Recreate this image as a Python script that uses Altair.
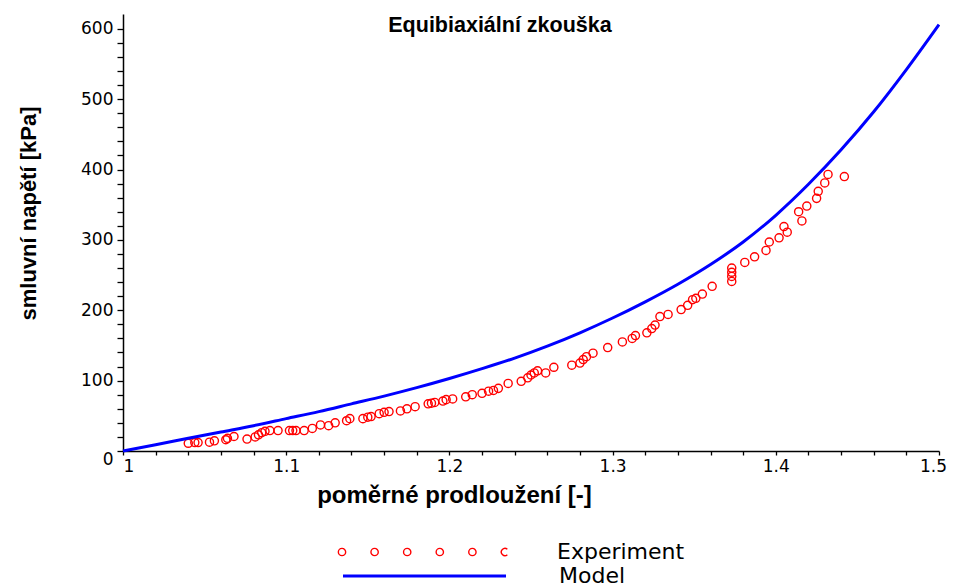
import altair as alt
import pandas as pd

TITLE = "Equibiaxiální zkouška"
X_TITLE = "poměrné prodloužení [-]"
Y_TITLE = "smluvní napětí [kPa]"
SERIES = ["Experiment", "Model"]
COLORS = ["#FF0000", "#0000FF"]

EXP_X = [1.040, 1.044, 1.046, 1.053, 1.056, 1.063, 1.064, 1.068, 1.076, 1.081,
         1.083, 1.085, 1.087, 1.090, 1.095, 1.102, 1.104, 1.106, 1.111, 1.116,
         1.121, 1.126, 1.130, 1.137, 1.139, 1.147, 1.150, 1.152, 1.157, 1.160,
         1.163, 1.170, 1.174, 1.179, 1.187, 1.189, 1.191, 1.196, 1.198, 1.202,
         1.210, 1.214, 1.220, 1.224, 1.227, 1.230, 1.236, 1.244, 1.248, 1.250,
         1.252, 1.254, 1.259, 1.264, 1.275, 1.280, 1.282, 1.284, 1.288, 1.297,
         1.306, 1.312, 1.314, 1.321, 1.324, 1.326, 1.329, 1.334, 1.342, 1.346,
         1.349, 1.351, 1.355, 1.361, 1.373, 1.373, 1.373, 1.373, 1.381, 1.387,
         1.394, 1.396, 1.402, 1.405, 1.407, 1.414, 1.416, 1.419, 1.425, 1.426,
         1.430, 1.432, 1.442]
EXP_Y = [11, 12, 12, 12.5, 14.5, 16, 18, 20.6, 17, 20,
         23, 26, 28, 29, 29, 29, 29, 29, 29, 32,
         37, 36, 40, 43, 46, 46, 48, 49, 53, 55,
         56, 57, 60, 63, 67, 68, 69, 71, 73, 74,
         77, 80, 82, 85, 86, 89, 96, 99, 104, 108,
         111, 114, 111, 119, 122, 125, 130, 134, 139, 147,
         155, 160, 164, 168, 174, 179, 191, 194, 201, 207,
         215, 217, 223, 234, 260, 254, 248, 241, 268, 276,
         285, 297, 303, 319, 311, 340, 327, 348, 359, 369,
         381, 393, 390]

MODEL_X = [1.00, 1.02, 1.04, 1.06, 1.08, 1.10, 1.12, 1.14, 1.16, 1.18,
           1.20, 1.22, 1.24, 1.26, 1.28, 1.30, 1.32, 1.34, 1.36, 1.38,
           1.40, 1.42, 1.44, 1.46, 1.48, 1.50]
MODEL_Y = [0, 9, 18, 27, 36, 46, 56, 67, 78, 90,
           103, 117, 132, 149, 168, 189, 212, 237, 265, 297,
           335, 379, 428, 482, 542, 606]

X_DOMAIN = [1.0, 1.5]
Y_DOMAIN = [0, 621]
X_MINOR = [round(1.0 + 0.02 * i, 2) for i in range(26)]
Y_MINOR = [20 * i for i in range(31)]

TITLE_FONT = "Liberation Sans"

exp_df = pd.DataFrame({"x": EXP_X, "y": EXP_Y, "series": SERIES[0]})
model_df = pd.DataFrame({"x": MODEL_X, "y": MODEL_Y, "series": SERIES[1]})

r = 0.045
def circ(cx):
    return f"M{cx - r:.3f},0a{r},{r} 0 1,0 {2 * r},0a{r},{r} 0 1,0 {-2 * r},0"
exp_path = " ".join(circ(c) for c in [-1.0, -0.6, -0.2, 0.2, 0.6])
exp_path += f" M{1.0 + 0.029:.3f},-0.0345A{r},{r} 0 1,0 {1.0 + 0.029:.3f},0.0345"
model_path = "M-1,0L1,0"

common = dict(orient="none", legendX=218, title=None, symbolSize=26569, symbolOffset=0,
              symbolFillColor="transparent", labelOffset=51, labelFont="DejaVu Sans",
              labelFontSize=22, labelColor="black", padding=0)

legend_exp = alt.Legend(legendY=455.5, symbolType=exp_path, symbolStrokeWidth=1.4, **common)
legend_model = alt.Legend(legendY=478.5, symbolType=model_path, symbolStrokeWidth=3.2, **common)

x_axis = alt.Axis(
    values=X_MINOR, format="~g",
    labelExpr="abs(datum.value*10 - round(datum.value*10)) < 0.000001 ? format(datum.value, '~g') : ''",
    labelFlush=False,
    labelAlign={"condition": {"test": "datum.value < 1.001", "value": "left"}, "value": "center"},
    labelOffset={"condition": {"test": "datum.value > 1.499", "value": -6}, "value": 0},
    tickSize=4, labelPadding=3,
    titleX=331, titleY=44, titleBaseline="middle", titleAlign="center", titleFontSize=24,
)
y_axis = alt.Axis(
    values=Y_MINOR, format="~g",
    labelExpr="datum.value % 100 === 0 ? format(datum.value, '~g') : ''",
    labelBaseline={"condition": {"test": "datum.value < 1", "value": "top"}, "value": "middle"},
    tickSize=6, labelPadding=4,
    titleX=-95, titleY=199, titleBaseline="middle", titleAlign="center", titleFontSize=22,
)

xenc = alt.X("x:Q", scale=alt.Scale(domain=X_DOMAIN, nice=False, zero=False), axis=x_axis, title=X_TITLE)
yenc = alt.Y("y:Q", scale=alt.Scale(domain=Y_DOMAIN, nice=False), axis=y_axis, title=Y_TITLE)

points = alt.Chart(exp_df).mark_point(shape="circle", filled=False, size=66, strokeWidth=1.4, opacity=1).encode(
    x=xenc, y=yenc,
    color=alt.Color("series:N", scale=alt.Scale(domain=SERIES[:1], range=COLORS[:1]), legend=legend_exp))
line = alt.Chart(model_df).mark_line(strokeWidth=3, interpolate="monotone").encode(
    x=xenc, y=yenc,
    stroke=alt.Stroke("series:N", scale=alt.Scale(domain=SERIES[1:], range=COLORS[1:]), legend=legend_model))

chart = alt.layer(points, line).properties(
    width=816, height=437,
    title=alt.TitleParams(TITLE, anchor="middle", frame="group", orient="top", offset=0,
                          baseline="middle", dx=-31, dy=33, font=TITLE_FONT,
                          fontSize=21.5, fontWeight="bold", color="black"),
    autosize=alt.AutoSizeParams(type="none"),
    padding={"left": 115, "top": 6, "right": 10, "bottom": 140},
    background="white",
).configure_view(stroke=None).configure_axis(
    grid=False, domainColor="black", domainWidth=1.5, tickColor="black", tickWidth=1.3,
    labelFont="DejaVu Sans", labelFontSize=17, labelColor="black",
    titleFont=TITLE_FONT, titleFontWeight="bold", titleColor="black",
)

chart.save("out.html", embed_options={"renderer": "svg", "actions": False})
